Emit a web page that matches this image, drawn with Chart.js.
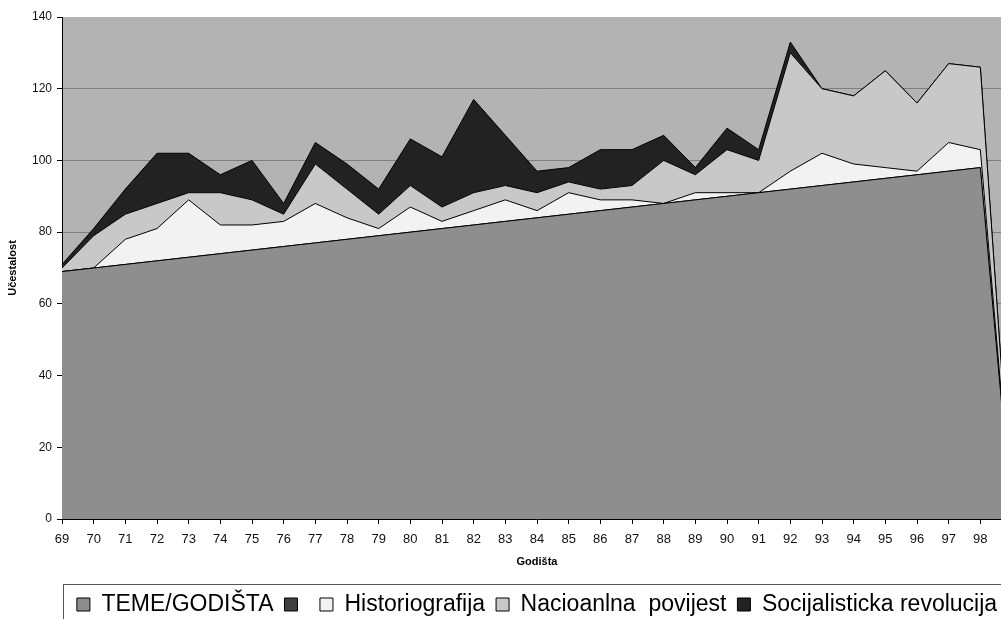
<!DOCTYPE html>
<html>
<head>
<meta charset="utf-8">
<script src="https://cdn.jsdelivr.net/npm/chart.js@4.4.0/dist/chart.umd.min.js"></script>
<style>
  html, body { margin: 0; padding: 0; background: #fff; overflow: hidden; }
  #wrap { width: 1030px; height: 632px; }
</style>
</head>
<body>
<div id="wrap"><canvas id="chart" width="1030" height="632"></canvas></div>
<script>
// godista (zadnja kategorija je bez oznake)
var godista = ['69','70','71','72','73','74','75','76','77','78','79','80','81','82','83','84','85','86','87','88','89','90','91','92','93','94','95','96','97','98',''];
var temeGodista = [69,70,71,72,73,74,75,76,77,78,79,80,81,82,83,84,85,86,87,88,89,90,91,92,93,94,95,96,97,98,0];
var prazno = [0,0,0,0,0,0,0,0,0,0,0,0,0,0,0,0,0,0,0,0,0,0,0,0,0,0,0,0,0,0,0];
var historiografija = [0,0,7,9,16,8,7,7,11,6,2,7,2,4,6,2,6,3,2,0,2,1,0,5,9,5,3,1,8,5,0];
var nacionalnaPovijest = [1,9,7,7,2,9,7,2,11,8,4,6,4,5,4,5,3,3,4,12,5,12,9,33,18,19,27,19,22,23,0];
var socijalistickaRevolucija = [1,2,7,14,11,5,11,3,6,7,7,13,14,26,14,6,4,11,10,7,2,6,3,3,0,0,0,0,0,0,0];
var yMin = 0, yMax = 140, yStep = 20;

var font = "'Liberation Sans', Arial, sans-serif";

function serija(label, data, boja, fill) {
    return {
        label: label,
        data: data,
        backgroundColor: boja,
        borderColor: '#000',
        borderWidth: 1,
        pointRadius: 0,
        tension: 0,
        fill: fill
    };
}

// siva pozadina podrucja grafa i okvir legende
var pozadina = {
    id: 'pozadina',
    beforeDraw: function(chart) {
        var a = chart.chartArea, ctx = chart.ctx;
        ctx.save();
        ctx.fillStyle = '#b3b3b3';
        ctx.fillRect(a.left, a.top, a.right - a.left, a.bottom - a.top);
        ctx.restore();
    },
    afterDraw: function(chart) {
        var l = chart.legend, ctx = chart.ctx;
        ctx.save();
        ctx.strokeStyle = '#555';
        ctx.lineWidth = 1;
        ctx.strokeRect(l.left + 1.5, l.top + 2.5, l.width + 40, l.height + 20);
        ctx.restore();
    }
};

var ctx = document.getElementById('chart').getContext('2d');
var myChart = new Chart(ctx, {
    type: 'line',
    data: {
        labels: godista,
        datasets: [
            serija('TEME/GODIŠTA', temeGodista, '#8e8e8e', 'origin'),
            serija('', prazno, '#404040', '-1'),
            serija('Historiografija', historiografija, '#f2f2f2', '-1'),
            serija('Nacioanlna  povijest', nacionalnaPovijest, '#c8c8c8', '-1'),
            serija('Socijalisticka revolucija', socijalistickaRevolucija, '#222222', '-1')
        ]
    },
    options: {
        responsive: false,
        animation: false,
        devicePixelRatio: 1,
        layout: { padding: { left: 0, right: 18, top: 17, bottom: 6 } },
        plugins: {
            tooltip: { enabled: false },
            legend: {
                position: 'bottom',
                fullSize: false,
                labels: {
                    boxWidth: 13,
                    boxHeight: 13,
                    padding: 11,
                    color: '#000',
                    font: { family: font, size: 23 }
                }
            }
        },
        scales: {
            x: {
                stacked: true,
                grid: { drawOnChartArea: false, tickLength: 5, tickColor: '#000' },
                border: { color: '#000' },
                ticks: { autoSkip: false, maxRotation: 0, padding: 8, color: '#111', font: { family: font, size: 13 } },
                title: { display: true, text: 'Godišta', color: '#000', padding: { top: 0, bottom: 13 }, font: { family: font, size: 11, weight: 'bold' } },
                afterFit: function(scale) { scale.height = 63; }
            },
            y: {
                stacked: true,
                min: yMin,
                max: yMax,
                grid: {
                    tickLength: 5,
                    tickColor: '#000',
                    color: function(c) { return (c.tick.value === yMin || c.tick.value === yMax) ? 'rgba(0,0,0,0)' : '#7f7f7f'; }
                },
                border: { color: '#000' },
                ticks: { stepSize: yStep, padding: 5, color: '#111', font: { family: font, size: 12 } },
                title: { display: true, text: 'Učestalost', color: '#000', padding: { top: 6, bottom: 0 }, font: { family: font, size: 11, weight: 'bold' } },
                afterFit: function(scale) { scale.width = 62; }
            }
        }
    },
    plugins: [pozadina]
});
</script>
</body>
</html>
